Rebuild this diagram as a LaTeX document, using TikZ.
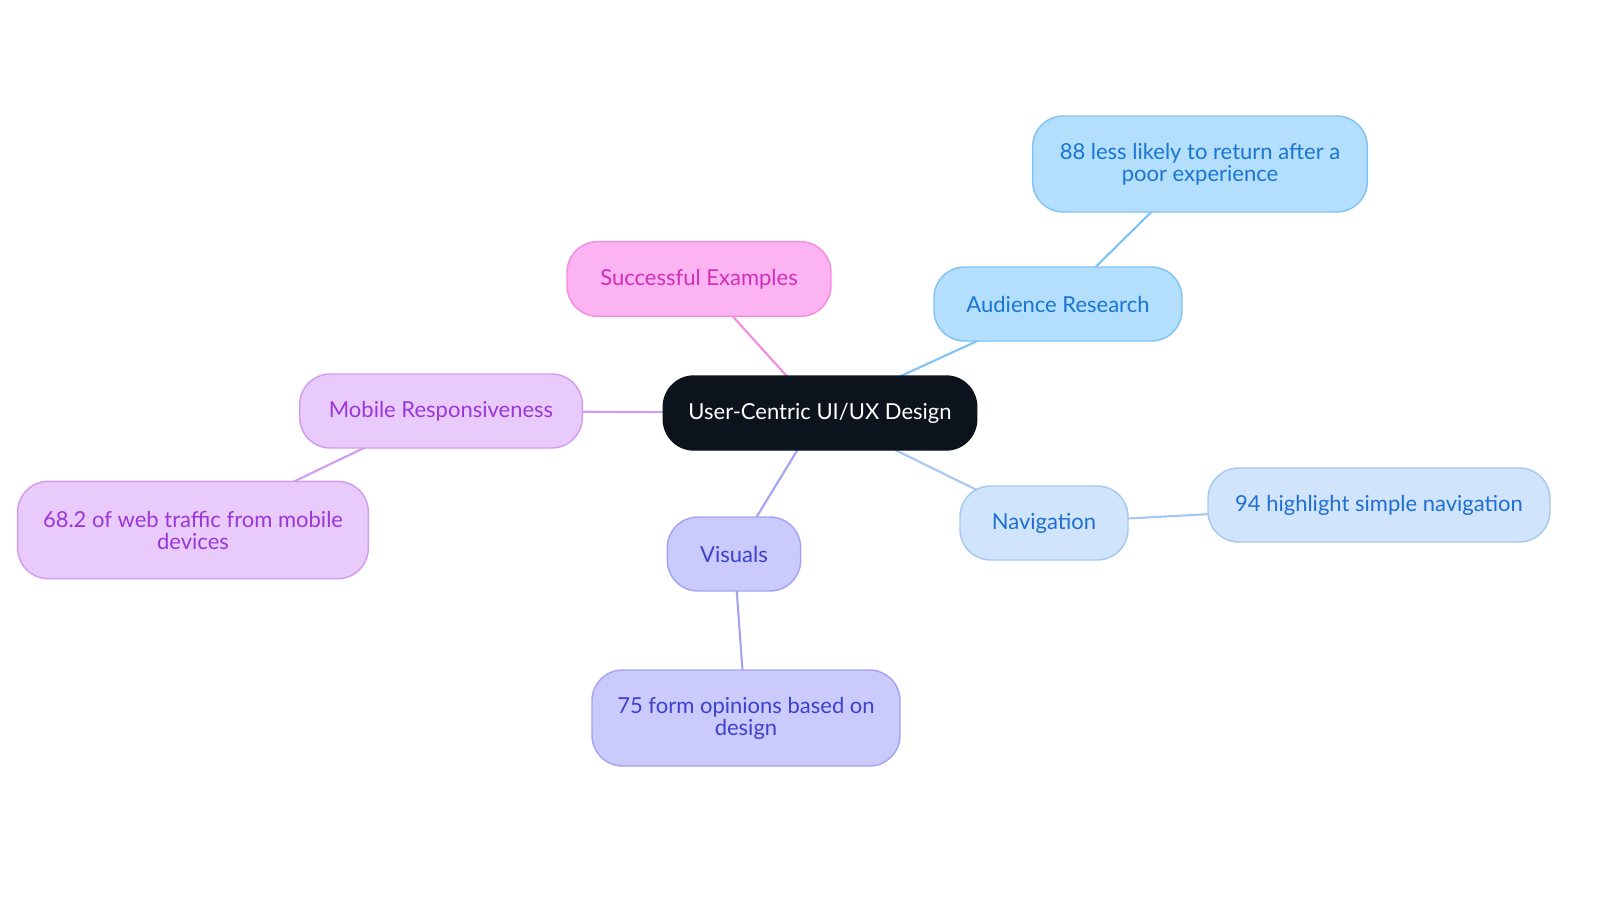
\documentclass[tikz,border=0pt]{standalone}
\usepackage{fontspec}
\setmainfont{Lato}
\usetikzlibrary{backgrounds}
\definecolor{cfill}{HTML}{0D131C}
\definecolor{pkfill}{HTML}{FBB4F1}\definecolor{pkdraw}{HTML}{F28DE0}\definecolor{pktext}{HTML}{D02FB8}
\definecolor{abfill}{HTML}{B3DEFC}\definecolor{abdraw}{HTML}{82C3F2}\definecolor{abtext}{HTML}{1976D2}
\definecolor{mpfill}{HTML}{E8CAFB}\definecolor{mpdraw}{HTML}{D29DF0}\definecolor{mptext}{HTML}{9B37D9}
\definecolor{vifill}{HTML}{CACBFC}\definecolor{vidraw}{HTML}{A4A4F4}\definecolor{vitext}{HTML}{3F3FCF}
\definecolor{nvfill}{HTML}{D0E4FB}\definecolor{nvdraw}{HTML}{A5C8F2}\definecolor{nvtext}{HTML}{1F6FD2}
\tikzset{
  box/.style={rectangle, rounded corners=23pt, line width=1.1pt, align=center, font=\fontsize{16.5}{16.5}\selectfont, inner sep=0pt},
  rootbox/.style={box, fill=cfill, draw=cfill, text=white},
  pinkbox/.style={box, fill=pkfill, draw=pkdraw, text=pktext},
  abox/.style={box, fill=abfill, draw=abdraw, text=abtext},
  mbox/.style={box, fill=mpfill, draw=mpdraw, text=mptext},
  vbox/.style={box, fill=vifill, draw=vidraw, text=vitext},
  nbox/.style={box, fill=nvfill, draw=nvdraw, text=nvtext},
  link/.style={line width=1.6pt}
}
\begin{document}
\begin{tikzpicture}[x=0.75pt,y=-0.75pt]
\useasboundingbox (0,0) rectangle (1600,903);
\node[rootbox, minimum width=235pt, minimum height=55.5pt] (root) at (820,413) {User-Centric UI/UX Design};
\node[pinkbox, minimum width=198pt, minimum height=56pt] (succ) at (699,279) {Successful Examples};
\node[abox, minimum width=186pt, minimum height=55.5pt] (aud) at (1058,304) {Audience Research};
\node[abox, minimum width=251pt, minimum height=72pt] (aud1) at (1200,164) {88 less likely to return after a\\poor experience};
\node[mbox, minimum width=212pt, minimum height=55.5pt] (mob) at (441,411) {Mobile Responsiveness};
\node[mbox, minimum width=263pt, minimum height=73pt] (mob1) at (193,530) {68.2 of web traffic from mobile\\devices};
\node[vbox, minimum width=100pt, minimum height=55.5pt] (vis) at (734,554) {Visuals};
\node[vbox, minimum width=231pt, minimum height=72pt] (vis1) at (746,718) {75 form opinions based on\\design};
\node[nbox, minimum width=126pt, minimum height=55.5pt] (nav) at (1044,523) {Navigation};
\node[nbox, minimum width=256.5pt, minimum height=55.5pt] (nav1) at (1379,505) {94 highlight simple navigation};
\begin{scope}[on background layer]
\draw[link, draw=pkdraw] (root.center) -- (succ.center);
\draw[link, draw=abdraw] (root.center) -- (aud.center);
\draw[link, draw=abdraw] (aud.center) -- (aud1.center);
\draw[link, draw=mpdraw] (root.center) -- (mob.center);
\draw[link, draw=mpdraw] (mob.center) -- (mob1.center);
\draw[link, draw=vidraw] (root.center) -- (vis.center);
\draw[link, draw=vidraw] (vis.center) -- (vis1.center);
\draw[link, draw=nvdraw] (root.center) -- (nav.center);
\draw[link, draw=nvdraw] (nav.center) -- (nav1.center);
\end{scope}
\end{tikzpicture}
\end{document}
